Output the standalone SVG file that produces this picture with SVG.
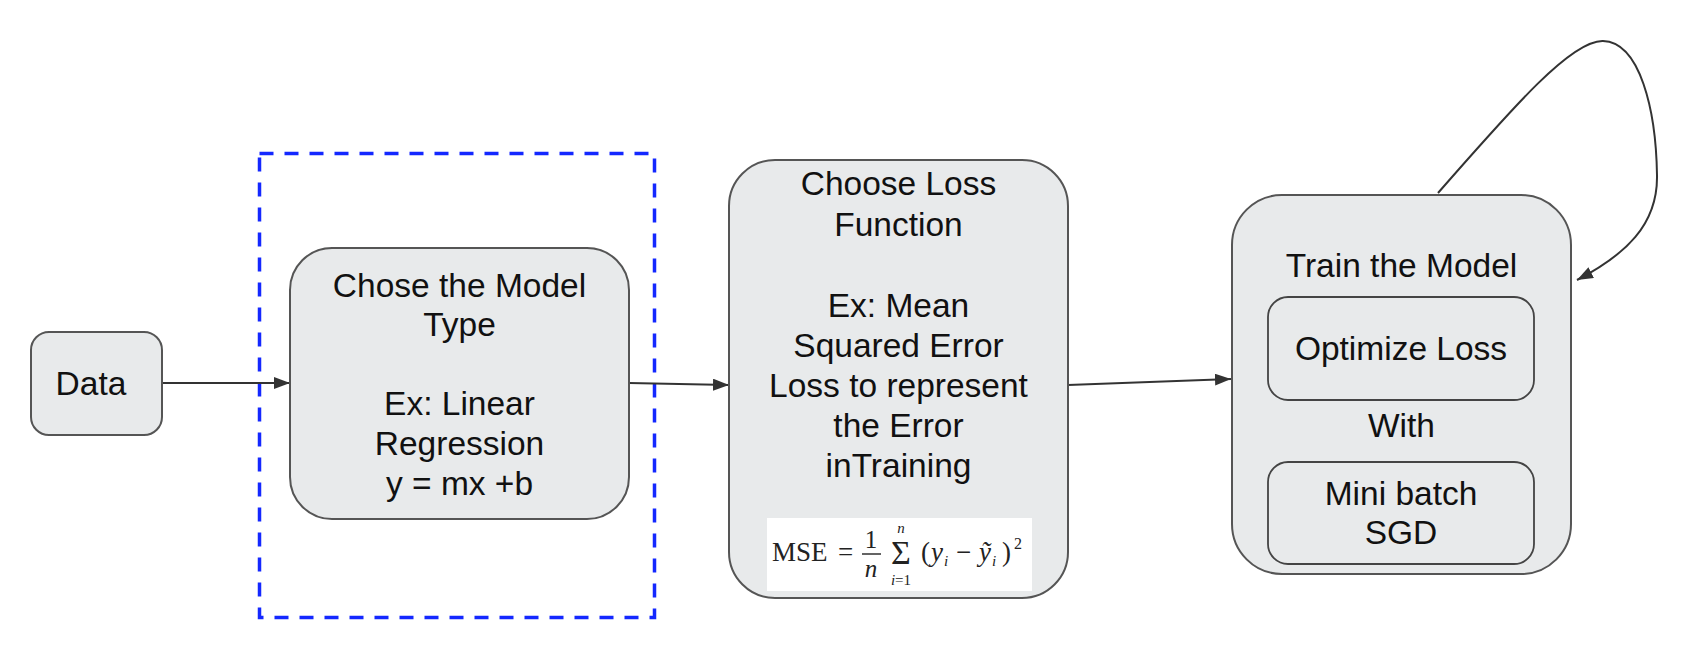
<svg xmlns="http://www.w3.org/2000/svg" width="1684" height="658" viewBox="0 0 1684 658">
<defs>
<marker id="arr" markerUnits="userSpaceOnUse" markerWidth="18" markerHeight="14" refX="16" refY="6" orient="auto">
<path d="M0,0 L16,6 L0,12 z" fill="#333"/>
</marker>
<style>
.box{fill:#e8eaeb;stroke:#555;stroke-width:2}
.inner{fill:#e8eaeb;stroke:#444;stroke-width:1.8}
.t{font-family:"Liberation Sans",Arial,sans-serif;font-size:33.5px;fill:#111;text-anchor:middle}
.con{fill:none;stroke:#333;stroke-width:2}
.m{font-family:"Liberation Serif","Times New Roman",serif;fill:#222}
</style>
</defs>
<rect width="1684" height="658" fill="#fff"/>

<g id="group-model">
<rect x="259.5" y="153.5" width="395" height="464" fill="none" stroke="#1428ff" stroke-width="3.5" stroke-dasharray="14 11"/>
</g>

<g id="connectors">
<line class="con" x1="162" y1="383" x2="290" y2="383" marker-end="url(#arr)"/>
<line class="con" x1="629" y1="383" x2="729" y2="385" marker-end="url(#arr)"/>
<line class="con" x1="1068" y1="385" x2="1231" y2="379" marker-end="url(#arr)"/>
<path class="con" d="M1438,193 C1515,105 1572,40 1603,41 C1640,42 1656,110 1657,175 C1658,225 1625,255 1577,280" marker-end="url(#arr)"/>
</g>

<g id="node-data">
<rect class="box" x="31" y="332" width="131" height="103" rx="18"/>
<text class="t" x="91" y="395">Data</text>
</g>

<g id="node-model">
<rect class="box" x="290" y="248" width="339" height="271" rx="42"/>
<text class="t" x="459.5" y="297">Chose the Model</text>
<text class="t" x="459.5" y="336">Type</text>
<text class="t" x="459.5" y="415">Ex: Linear</text>
<text class="t" x="459.5" y="455">Regression</text>
<text class="t" x="459.5" y="495">y = mx +b</text>
</g>

<g id="node-loss">
<rect class="box" x="729" y="160" width="339" height="438" rx="46"/>
<text class="t" x="898.5" y="195">Choose Loss</text>
<text class="t" x="898.5" y="236">Function</text>
<text class="t" x="898.5" y="317">Ex: Mean</text>
<text class="t" x="898.5" y="357">Squared Error</text>
<text class="t" x="898.5" y="397">Loss to represent</text>
<text class="t" x="898.5" y="437">the Error</text>
<text class="t" x="898.5" y="477">inTraining</text>
<rect x="767" y="518" width="265" height="73" fill="#fff"/>
<text class="m" x="772" y="561" font-size="27">MSE</text>
<text class="m" x="838" y="561" font-size="27">=</text>
<text class="m" x="871" y="548" font-size="25" text-anchor="middle">1</text>
<line x1="862" y1="554" x2="881" y2="554" stroke="#222" stroke-width="1.4"/>
<text class="m" x="871" y="577" font-size="25" font-style="italic" text-anchor="middle">n</text>
<text class="m" x="901" y="533" font-size="15" font-style="italic" text-anchor="middle">n</text>
<text class="m" x="901" y="564" font-size="34" text-anchor="middle">Σ</text>
<text class="m" x="901" y="585" font-size="15" text-anchor="middle"><tspan font-style="italic">i</tspan>=1</text>
<text class="m" x="921" y="561" font-size="27">(</text>
<text class="m" x="931" y="561" font-size="27" font-style="italic">y</text>
<text class="m" x="944" y="566" font-size="15" font-style="italic">i</text>
<text class="m" x="956" y="561" font-size="27">−</text>
<text class="m" x="979" y="561" font-size="27" font-style="italic">ỹ</text>
<text class="m" x="992" y="566" font-size="15" font-style="italic">i</text>
<text class="m" x="1002" y="561" font-size="27">)</text>
<text class="m" x="1014" y="549" font-size="16">2</text>
</g>

<g id="node-train">
<rect class="box" x="1232" y="195" width="339" height="379" rx="50"/>
<text class="t" x="1401.5" y="277">Train the Model</text>
<g id="node-optimize">
<rect class="inner" x="1268" y="297" width="266" height="103" rx="20"/>
<text class="t" x="1401" y="360">Optimize Loss</text>
</g>
<text class="t" x="1401.5" y="437">With</text>
<g id="node-sgd">
<rect class="inner" x="1268" y="462" width="266" height="102" rx="20"/>
<text class="t" x="1401" y="505">Mini batch</text>
<text class="t" x="1401" y="544">SGD</text>
</g>
</g>
</svg>
